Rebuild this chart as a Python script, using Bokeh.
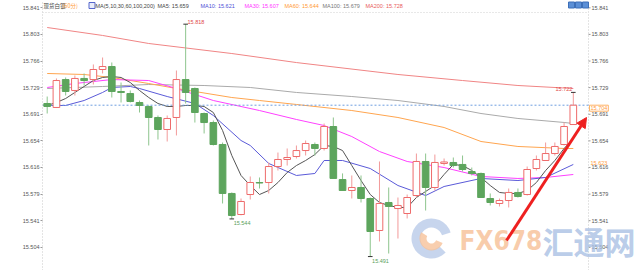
from bokeh.plotting import figure
from bokeh.models import (Range1d, LinearAxis, FixedTicker, Label, Arrow,
                          NormalHead, ColumnDataSource)
from bokeh.core.properties import value
from bokeh.embed import file_html
from bokeh.resources import INLINE

# ---------------- data ----------------
opens = [15.7064, 15.7008, 15.7401, 15.7247, 15.7416, 15.7401, 15.7542, 15.7584, 15.7233, 15.7204,
         15.7078, 15.7022, 15.6867, 15.6698, 15.6867, 15.7401, 15.7275, 15.6923, 15.6796, 15.6487,
         15.5798, 15.5502, 15.5783, 15.5952, 15.5952, 15.6177, 15.6276, 15.6318, 15.6402, 15.6487,
         15.6431, 15.6740, 15.5994, 15.5840, 15.5882, 15.5727, 15.5277, 15.5671, 15.5586, 15.5516,
         15.5769, 15.6248, 15.5882, 15.6220, 15.6234, 15.6206, 15.6107, 15.6079, 15.5727, 15.5657,
         15.5699, 15.5812, 15.5783, 15.6149, 15.6262, 15.6360, 15.6487, 15.6768]
highs = [15.7162, 15.7416, 15.7430, 15.7458, 15.7486, 15.7613, 15.7711, 15.7641, 15.7359, 15.7247,
         15.7106, 15.7036, 15.6895, 15.6895, 15.7528, 15.8180, 15.7289, 15.6937, 15.6825, 15.6515,
         15.5812, 15.5727, 15.6037, 15.6023, 15.6234, 15.6374, 15.6431, 15.6473, 15.6543, 15.6515,
         15.6782, 15.6867, 15.6080, 15.6051, 15.6051, 15.5741, 15.6248, 15.5882, 15.5741, 15.5783,
         15.6360, 15.6360, 15.6346, 15.6290, 15.6304, 15.6332, 15.6163, 15.6093, 15.5798, 15.5727,
         15.5868, 15.5868, 15.6177, 15.6332, 15.6515, 15.6515, 15.6796, 15.7220]
lows = [15.6923, 15.7000, 15.7176, 15.7176, 15.7317, 15.7331, 15.7486, 15.7148, 15.7078, 15.7078,
        15.6937, 15.6473, 15.6557, 15.6529, 15.6614, 15.7064, 15.6796, 15.6642, 15.6473, 15.5657,
        15.5440, 15.5490, 15.5713, 15.5868, 15.5798, 15.6121, 15.6191, 15.6290, 15.6332, 15.6332,
        15.6402, 15.6009, 15.5840, 15.5727, 15.5671, 15.4910, 15.5122, 15.4953, 15.5164, 15.5446,
        15.5741, 15.5558, 15.5840, 15.6191, 15.6163, 15.6107, 15.6051, 15.5741, 15.5629, 15.5615,
        15.5601, 15.5741, 15.5769, 15.6121, 15.6262, 15.6332, 15.6473, 15.6768]
closes = [15.7022, 15.7387, 15.7233, 15.7416, 15.7387, 15.7542, 15.7584, 15.7233, 15.7219, 15.7092,
          15.7036, 15.6867, 15.6698, 15.6853, 15.7401, 15.7219, 15.6937, 15.6796, 15.6487, 15.5798,
          15.5488, 15.5685, 15.5952, 15.5945, 15.6177, 15.6276, 15.6304, 15.6402, 15.6501, 15.6431,
          15.6740, 15.6009, 15.5840, 15.5882, 15.5727, 15.5263, 15.5657, 15.5615, 15.5629, 15.5741,
          15.6248, 15.5882, 15.6234, 15.6241, 15.6191, 15.6135, 15.6079, 15.5741, 15.5671, 15.5699,
          15.5812, 15.5755, 15.6135, 15.6276, 15.6360, 15.6459, 15.6740, 15.7040]

ma5 = [15.7036, 15.7078, 15.7134, 15.7219, 15.7303, 15.7387, 15.7430, 15.7444, 15.7430, 15.7359,
       15.7247, 15.7148, 15.7064, 15.7022, 15.7022, 15.7036, 15.7036, 15.7022, 15.6937, 15.6684,
       15.6332, 15.6051, 15.5910, 15.5783, 15.5840, 15.5952, 15.6093, 15.6191, 15.6262, 15.6346,
       15.6473, 15.6459, 15.6402, 15.6191, 15.5980, 15.5783, 15.5671, 15.5629, 15.5601, 15.5601,
       15.5741, 15.5826, 15.5910, 15.6065, 15.6206, 15.6191, 15.6121, 15.6023, 15.5910, 15.5812,
       15.5798, 15.5798, 15.5840, 15.5952, 15.6121, 15.6262, 15.6431, 15.6571]
ma10_idx = [0, 2, 4, 6, 7, 9, 10, 13, 16, 18, 21, 22, 24, 27, 29, 30, 32, 35, 38, 41, 43, 47, 51, 54, 57]
ma10 = [15.7036, 15.7036, 15.7106, 15.7219, 15.7289, 15.7303, 15.7275, 15.7162, 15.7064, 15.6895,
        15.6543, 15.6473, 15.6220, 15.6051, 15.6079, 15.6262, 15.6262, 15.6149, 15.5910, 15.5769,
        15.5896, 15.6009, 15.5980, 15.6023, 15.6206]
ma30_idx = [0, 3, 7, 11, 14, 18, 23, 27, 30, 33, 36, 39, 43, 47, 51, 54, 57]
ma30 = [15.7289, 15.7345, 15.7401, 15.7387, 15.7275, 15.7106, 15.6965, 15.6839, 15.6754, 15.6599,
        15.6388, 15.6248, 15.6163, 15.6037, 15.6009, 15.6023, 15.6065]
ma60_idx = [0, 4, 7, 11, 14, 20, 23, 27, 33, 38, 43, 47, 51, 56, 57]
ma60 = [15.7486, 15.7472, 15.7430, 15.7345, 15.7275, 15.7148, 15.7106, 15.7050, 15.6965, 15.6867,
        15.6726, 15.6529, 15.6459, 15.6431, 15.6431]
ma100_idx = [0, 6, 11, 17, 22, 27, 33, 38, 43, 47, 51, 56, 57]
ma100 = [15.7275, 15.7303, 15.7331, 15.7317, 15.7289, 15.7219, 15.7162, 15.7106, 15.7022, 15.6923,
         15.6853, 15.6797, 15.6782]
ma200_idx = [0, 6, 11, 20, 27, 38, 45, 51, 57]
ma200 = [15.8133, 15.8021, 15.7908, 15.7767, 15.7640, 15.7472, 15.7387, 15.7317, 15.7275]

tick_vals = [15.841, 15.8036, 15.7661, 15.7287, 15.6912, 15.6538, 15.6164, 15.5789, 15.5415, 15.5040]
tick_labels = ["15.841", "15.803", "15.766", "15.729", "15.691", "15.654", "15.616", "15.579", "15.541", "15.504"]

last_price = 15.704
side_price = 15.623
header_texts = ["现货白银", "(60分)", "MA(5,10,30,60,100,200)", "MA5: 15.659", "MA10: 15.621",
                "MA30: 15.607", "MA60: 15.644", "MA100: 15.679", "MA200: 15.728"]

# ---------------- styling / layout ----------------
RED = "#ee6b6b"
RED_WICK = "#f29a9a"
GREEN = "#5da55d"
GREEN_WICK = "#8dc58d"
MA_COLORS = ["#555555", "#5a5ad8", "#ff40ff", "#ffa54f", "#aaaaaa", "#f08585"]
FONT = "Liberation Sans"
CJK = "Noto Sans CJK SC"

X0, XS = 46.7, 9.23          # pixel position of candle 0 and candle spacing
def px2x(px):
    return (px - X0) / XS
def px2y(py):
    return 15.8513 - 0.001407 * py

XL, XR = px2x(42), px2x(588)       # left / right price-axis positions
YB, YT = px2y(270), px2y(0)

p = figure(width=640, height=270, output_backend="svg", toolbar_location=None,
           x_range=Range1d(XL, px2x(640)), y_range=Range1d(YB, YT),
           x_axis_location=None, y_axis_location=None,
           min_border_left=42, min_border_right=0, min_border_top=0, min_border_bottom=0)
p.outline_line_color = None
p.grid.visible = False
p.background_fill_color = "white"

overrides = {v: s for v, s in zip(tick_vals, tick_labels)}
left_ax = LinearAxis(ticker=FixedTicker(ticks=tick_vals), major_label_overrides=overrides,
                     axis_line_color="#c8c8c8", axis_line_dash="1 2",
                     major_tick_line_color="#999999", major_tick_in=0, major_tick_out=2,
                     minor_tick_line_color=None, major_label_standoff=1,
                     major_label_text_font=FONT, major_label_text_font_size="5.5px",
                     major_label_text_color="#555555")
p.add_layout(left_ax, "left")

n = len(opens)
idx = list(range(n))
up = [c >= o for o, c in zip(opens, closes)]

def src(mask):
    sel = [i for i in idx if mask[i]]
    return ColumnDataSource(dict(
        x=sel,
        hi=[highs[i] for i in sel], lo=[lows[i] for i in sel],
        top=[max(opens[i], closes[i]) for i in sel],
        bot=[min(opens[i], closes[i]) for i in sel]))

up_src = src(up)
dn_src = src([not u for u in up])

# watermark (drawn beneath the data)
p.annular_wedge(x=[px2x(431)] * 2, y=[px2y(238)] * 2, inner_radius=[11, 5], outer_radius=[20, 12],
                start_angle=[0.3, 2.6], end_angle=[5.5, 5.9],
                inner_radius_units="screen", outer_radius_units="screen",
                fill_color=["#b9cbe8", "#f6c29a"], line_color=None, fill_alpha=0.8)
p.add_layout(Label(x=px2x(459), y=px2y(240), text="FX678", text_baseline="middle",
                   text_font="DejaVu Sans Condensed", text_font_style="bold", text_font_size="26px",
                   text_color="#f7c39c", text_alpha=0.85))
p.add_layout(Label(x=px2x(542), y=px2y(240), text="汇通网", text_baseline="middle",
                   text_font=CJK, text_font_style="bold", text_font_size="31px",
                   text_color="#a9bfe3", text_alpha=0.8))

# right price axis (drawn by hand, in the plot area)
p.segment(x0=[XR], x1=[XR], y0=[YB], y1=[YT], line_color="#c8c8c8", line_dash="1 2")
p.segment(x0=[XR] * len(tick_vals), x1=[px2x(590)] * len(tick_vals), y0=tick_vals, y1=tick_vals,
          line_color="#999999")
p.text(x=[px2x(591)] * len(tick_vals), y=tick_vals, text=tick_labels, text_align="left",
       text_baseline="middle", text_font=value(FONT), text_font_size="5.5px", text_color="#555555")

# top dotted border
p.segment(x0=[XL], x1=[XR], y0=[px2y(12)], y1=[px2y(12)], line_color="#d0d0d0", line_dash="1 2")

# moving averages
ma_series = [(idx, ma5), (ma10_idx, ma10), (ma30_idx, ma30), (ma60_idx, ma60),
             (ma100_idx, ma100), (ma200_idx, ma200)]
for (xs, ys), col in zip(ma_series[::-1], MA_COLORS[::-1]):
    p.line(xs, ys, line_color=col, line_width=1)

# last price dashed line
p.segment(x0=[XL], x1=[XR], y0=[last_price], y1=[last_price], line_color="#6f9fe0",
          line_dash="2 2", line_width=1)

# candles
p.segment(x0="x", x1="x", y0="lo", y1="hi", source=dn_src, line_color=GREEN_WICK, line_width=1)
p.segment(x0="x", x1="x", y0="lo", y1="hi", source=up_src, line_color=RED_WICK, line_width=1)
p.vbar(x="x", width=0.72, top="top", bottom="bot", source=dn_src,
       fill_color=GREEN, line_color=GREEN, line_width=1)
p.vbar(x="x", width=0.72, top="top", bottom="bot", source=up_src,
       fill_color="white", line_color=RED, line_width=1)

# high / low markers
i_hi = max(idx, key=lambda i: highs[i])
i_lo = min(idx, key=lambda i: lows[i])
i_lo2 = min(range(15, 30), key=lambda i: lows[i])
i_last = n - 1
for i, val, col, align, dy in [(i_hi, highs[i_hi], "#e04848", "left", 2),
                               (i_last, highs[i_last], "#e04848", "right", 3),
                               (i_lo, lows[i_lo], "#5aa05a", "left", -4),
                               (i_lo2, lows[i_lo2], "#5aa05a", "left", -4)]:
    p.segment(x0=[i - 0.25], x1=[i + 0.25], y0=[val], y1=[val], line_color="#333333", line_width=1)
    p.add_layout(Label(x=i + (0.2 if align == "left" else -0.1), y=val, text=f"{val:.3f}",
                       text_align=align, text_baseline="middle", y_offset=dy,
                       text_font=FONT, text_font_size="5.5px", text_color=col))

# right side price tags
p.add_layout(Label(x=px2x(589), y=last_price, text=f"{last_price:.3f}", text_align="left",
                   text_baseline="top", text_font=FONT, text_font_size="5.5px",
                   text_color="#ff9a3a", border_line_color="#ffb366", background_fill_color="white",
                   padding=1))
p.add_layout(Label(x=px2x(590), y=side_price, text=f"{side_price:.3f}", text_align="left",
                   text_baseline="middle", text_font=FONT, text_font_size="5.5px",
                   text_color="#ff9a3a"))

# header
header_px = [43, 62, 95, 157, 200, 244, 284, 322, 365]
header_colors = ["#444444", "#ff9933", "#444444", "#444444", "#4d4dd6", "#ff33ff", "#ff9933",
                 "#777777", "#e85a5a"]
for t, xpx, col in zip(header_texts, header_px, header_colors):
    p.add_layout(Label(x=px2x(xpx), y=px2y(5), text=t, text_align="left", text_baseline="middle",
                       text_font=CJK if any(ord(ch) > 255 for ch in t) else FONT,
                       text_font_size="5.5px", text_color=col))
# small icon in header and toolbar icons (top right)
p.rect(x=[px2x(91.5)], y=[px2y(5)], width=6, height=6, width_units="screen", height_units="screen",
       fill_color="#e8ecfa", line_color="#5566cc")
p.rect(x=[px2x(v) for v in (571, 578, 585)], y=[px2y(4.5)] * 3, width=6, height=6,
       width_units="screen", height_units="screen", fill_color="#5b8fd6", line_color="#3d6fb8")

# red trend arrow
p.add_layout(Arrow(x_start=px2x(506), y_start=px2y(240), x_end=px2x(586), y_end=px2y(117),
                   line_color="#ee2020", line_width=3,
                   end=NormalHead(size=10, fill_color="#ee2020", line_color="#ee2020")))

open("out.html", "w").write(file_html(p, INLINE))
